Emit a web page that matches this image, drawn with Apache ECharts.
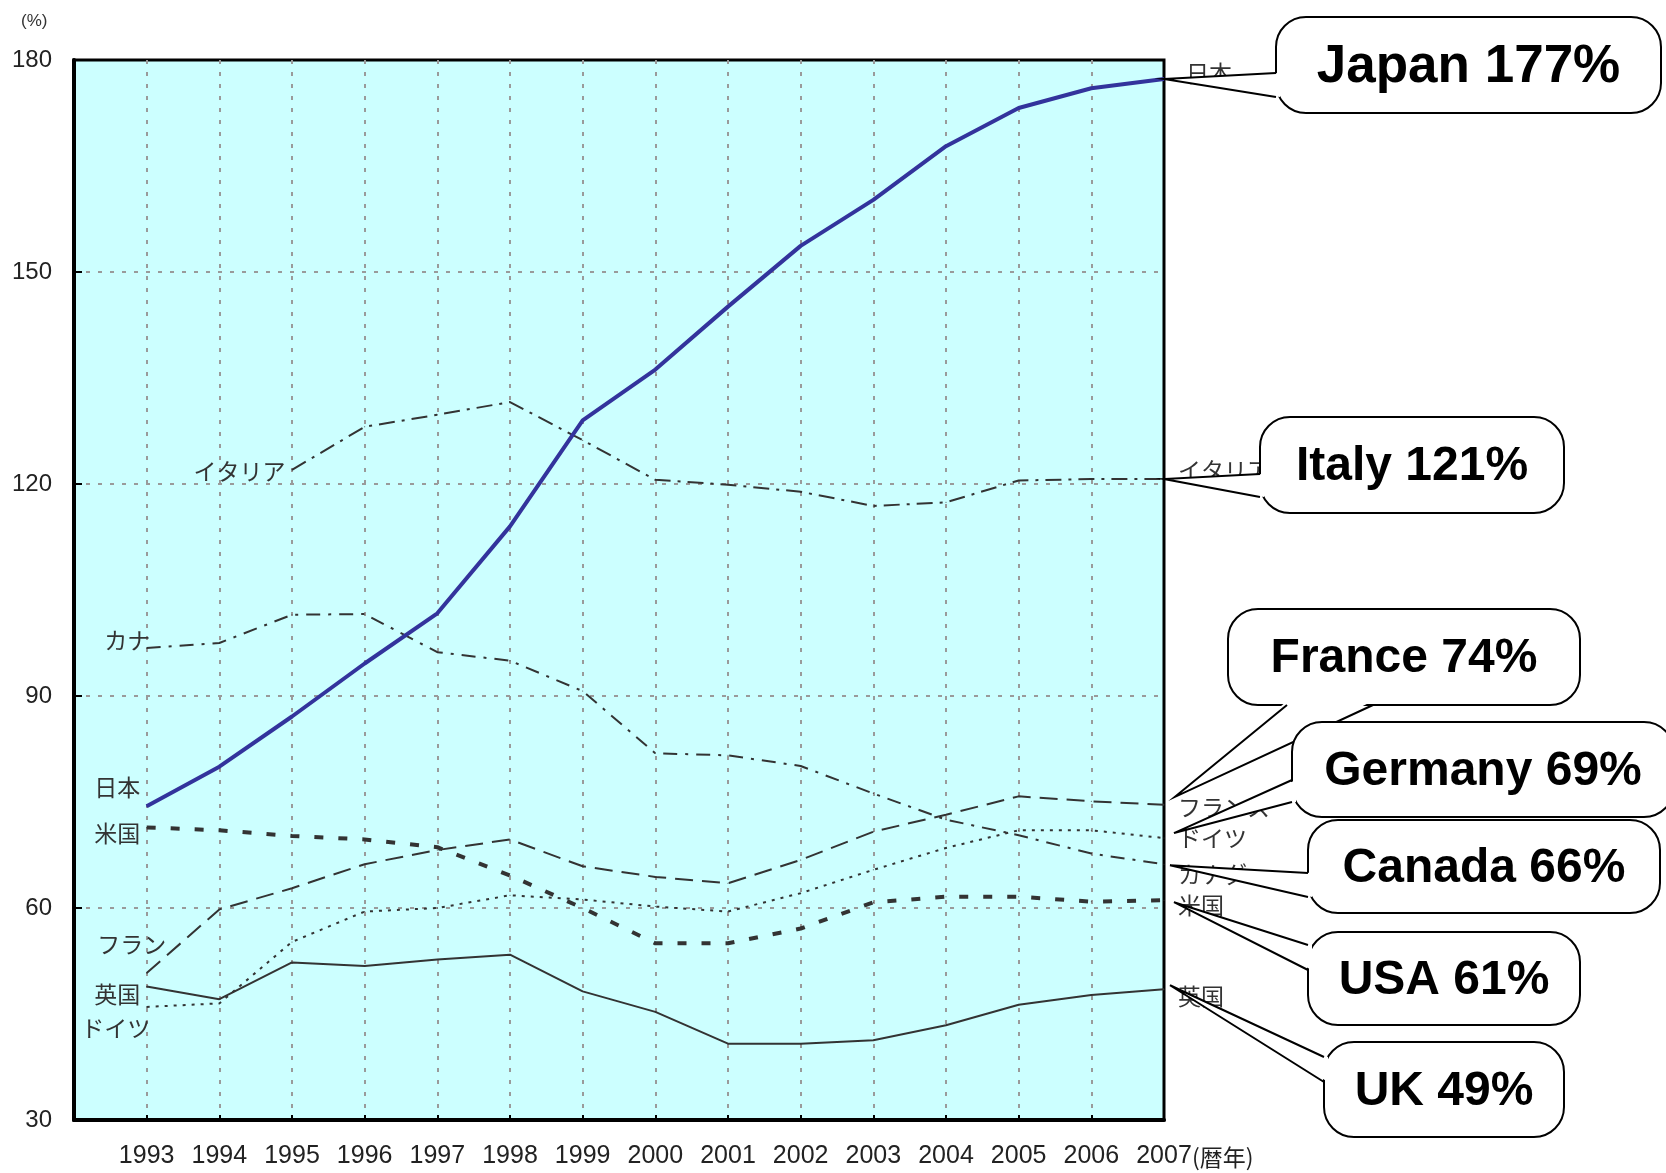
<!DOCTYPE html>
<html>
<head>
<meta charset="utf-8">
<title>G7 government debt</title>
<script src="https://cdn.jsdelivr.net/npm/echarts@6/dist/echarts.min.js"></script>
<style>
  html, body { margin: 0; padding: 0; background: #fff; }
  #chart { width: 1666px; height: 1173px; }
</style>
</head>
<body>
<div id="chart"></div>
<script>
/**---------------------------------------------------------------------------------------------------------------------
 * Data (% of GDP)
 *-------------------------------------------------------------------------------------------------------------------*/
const years = [1993, 1994, 1995, 1996, 1997, 1998, 1999, 2000, 2001, 2002, 2003, 2004, 2005, 2006, 2007];

const japan   = [74.4, 80.0, 87.1, 94.6, 101.7, 114.0, 129.0, 136.2, 145.1, 153.7, 160.2, 167.8, 173.2, 176.0, 177.3];
const italy   = [null, null, 122.0, 128.1, 129.8, 131.6, 126.2, 120.6, 119.9, 118.9, 116.9, 117.4, 120.5, 120.7, 120.7];
const canada  = [96.8, 97.5, 101.5, 101.6, 96.2, 95.0, 90.7, 81.9, 81.6, 80.1, 76.2, 72.5, 70.3, 67.7, 66.2];
const france  = [50.8, 59.8, 62.8, 66.2, 68.2, 69.7, 65.9, 64.4, 63.5, 66.8, 70.8, 73.2, 75.8, 75.1, 74.6];
const usa     = [71.4, 71.0, 70.2, 69.7, 68.6, 64.6, 60.0, 55.0, 55.0, 57.1, 60.8, 61.6, 61.6, 60.9, 61.1];
const germany = [46.0, 46.5, 55.2, 59.5, 60.0, 61.8, 61.2, 60.2, 59.5, 62.1, 65.4, 68.5, 71.0, 71.0, 69.9];
const uk      = [48.9, 47.1, 52.3, 51.8, 52.7, 53.4, 48.2, 45.3, 40.8, 40.8, 41.3, 43.4, 46.3, 47.7, 48.5];

const yTicks = [30, 60, 90, 120, 150, 180];
const xUnit = '(暦年)';
const calloutTexts = ['Japan 177%', 'Italy 121%', 'France 74%', 'Germany 69%', 'Canada 66%', 'USA 61%', 'UK 49%'];

/**---------------------------------------------------------------------------------------------------------------------
 * Styles
 *-------------------------------------------------------------------------------------------------------------------*/
const JP_FONT = '"Noto Sans CJK JP", sans-serif';
const NUM_FONT = '"Liberation Sans", Arial, sans-serif';
const INK = '#333';
const X_LABEL_MARGIN = 24;
const X_LABEL_SIZE = 25;

// one entry per country: line look + where its japanese labels sit
const seriesDefs = [
    {name: '英国',    values: uk,      width: 2, type: 'solid',          startText: '英国',    startOffset: [0, 8],    endOffset: [0, 7]},
    {name: 'ドイツ',  values: germany, width: 2, type: [3, 6],           startText: 'ドイツ',  startOffset: [10, 21],  endOffset: [0, 0]},
    {name: 'フランス', values: france,  width: 2, type: [18, 9],          startText: 'フラン',  startOffset: [26, -29], endOffset: [0, 2]},
    {name: '米国',    values: usa,     width: 4, type: [9, 15],          startText: '米国',    startOffset: [0, 6],    endOffset: [0, 5]},
    {name: 'カナダ',  values: canada,  width: 2, type: [14, 8, 3, 8],    startText: 'カナ',    startOffset: [10, -8],  endOffset: [0, 10]},
    {name: 'イタリア', values: italy,   width: 2, type: [16, 7, 3, 7],    startText: 'イタリア', startOffset: [0, 1],    endOffset: [0, -9]},
    {name: '日本',    values: japan,   width: 4, type: 'solid', color: '#33339c', startText: '日本', startOffset: [0, -19], endOffset: [8, -6]}
];

// callout boxes on the right: box = [x, y, w, h]; the wedge leaves the box on `side` between `base`
const callouts = [
    {text: calloutTexts[0], values: japan,   box: [1276, 17, 385, 96],   side: 'left',   base: [73, 97],     tip: [0, 0],   size: 53},
    {text: calloutTexts[1], values: italy,   box: [1260, 417, 304, 96],  side: 'left',   base: [474, 497],   tip: [0, 0],   size: 48},
    {text: calloutTexts[2], values: france,  box: [1228, 609, 352, 96],  side: 'bottom', base: [1287, 1373], tip: [11, -8], size: 48},
    {text: calloutTexts[3], values: germany, box: [1292, 722, 382, 95],  side: 'left',   base: [780, 802],   tip: [10, -5], size: 48},
    {text: calloutTexts[4], values: canada,  box: [1308, 820, 352, 93],  side: 'left',   base: [873, 897],   tip: [6, 1],   size: 48},
    {text: calloutTexts[5], values: usa,     box: [1308, 932, 272, 93],  side: 'left',   base: [945, 970],   tip: [10, 2],  size: 48},
    {text: calloutTexts[6], values: uk,      box: [1324, 1042, 240, 95], side: 'left',   base: [1057, 1082], tip: [6, -4],  size: 48}
];

/**---------------------------------------------------------------------------------------------------------------------
 * Chart
 *-------------------------------------------------------------------------------------------------------------------*/
const chart = echarts.init(document.getElementById('chart'));

function buildSeries(def, idx) {
    let data = [];
    let first = true;
    years.forEach(function (yr, i) {
        let v = def.values[i];
        if (v == null) return;
        if (first) {
            data.push({
                value: [yr, v],
                label: {show: true, position: 'left', distance: 6, formatter: def.startText, offset: def.startOffset}
            });
            first = false;
        } else {
            data.push([yr, v]);
        }
    });
    let color = def.color || INK;
    return {
        type: 'line',
        name: def.name,
        data: data,
        z: 2 + idx,
        symbol: 'circle',
        symbolSize: 1,
        showSymbol: true,
        silent: true,
        animation: false,
        lineStyle: {color: color, width: def.width, type: def.type, cap: 'butt'},
        itemStyle: {color: color},
        label: {show: false, fontFamily: JP_FONT, fontSize: 23, color: INK},
        endLabel: {
            show: true, formatter: def.name, distance: 14, offset: def.endOffset,
            fontFamily: JP_FONT, fontSize: 23, color: INK
        }
    };
}

const lastYear = years[years.length - 1];

const option = {
    backgroundColor: '#fff',
    animation: false,
    title: {
        text: '(%)', left: 16, top: 8,
        textStyle: {fontFamily: NUM_FONT, fontSize: 17, fontWeight: 'normal', color: INK}
    },
    grid: {
        left: 74, right: 502, top: 60, bottom: 53,
        show: true, backgroundColor: '#ccffff', borderColor: '#000', borderWidth: 3
    },
    xAxis: {
        type: 'value',
        min: 1992, max: lastYear, interval: 1,
        axisLine: {lineStyle: {color: '#000', width: 4}},
        axisTick: {inside: true, length: 5, lineStyle: {color: '#000', width: 2}},
        axisLabel: {
            showMinLabel: false, showMaxLabel: true, margin: X_LABEL_MARGIN,
            fontFamily: NUM_FONT, fontSize: X_LABEL_SIZE, color: '#222',
            formatter: function (v) { return years.indexOf(v) >= 0 ? String(v) : ''; }
        },
        splitLine: {show: true, showMinLine: false, showMaxLine: false, lineStyle: {color: '#9a9a9a', width: 2, type: [4, 8]}}
    },
    yAxis: {
        type: 'value',
        min: yTicks[0], max: yTicks[yTicks.length - 1], interval: 30,
        axisLine: {show: true, lineStyle: {color: '#000', width: 4}},
        axisTick: {show: true, inside: true, length: 8, lineStyle: {color: '#000', width: 2}},
        axisLabel: {margin: 22, fontFamily: NUM_FONT, fontSize: 24, color: '#222'},
        splitLine: {show: true, showMinLine: false, showMaxLine: false, lineStyle: {color: '#9a9a9a', width: 2, type: [4, 8]}}
    },
    series: seriesDefs.map(buildSeries)
};

chart.setOption(option);

/**
 * Speech bubble callouts, their wedges point at the last value of each series
 */
function calloutGraphics() {
    let els = [];
    callouts.forEach(function (c, i) {
        let last = c.values[c.values.length - 1];
        let p = chart.convertToPixel({gridIndex: 0}, [lastYear, last]);
        let tip = [p[0] + c.tip[0], p[1] + c.tip[1]];
        let bx = c.box[0], by = c.box[1], bw = c.box[2], bh = c.box[3];
        let b1, b2, in1, in2;
        if (c.side === 'left') {
            b1 = [bx, c.base[0]]; b2 = [bx, c.base[1]];
            in1 = [bx + 4, c.base[0]]; in2 = [bx + 4, c.base[1]];
        } else {
            b1 = [c.base[0], by + bh]; b2 = [c.base[1], by + bh];
            in1 = [c.base[0], by + bh - 4]; in2 = [c.base[1], by + bh - 4];
        }
        let z = 100 + i * 10;
        els.push({
            type: 'rect', z: z, silent: true,
            shape: {x: bx, y: by, width: bw, height: bh, r: 30},
            style: {fill: '#fff', stroke: '#000', lineWidth: 2}
        });
        els.push({
            type: 'polygon', z: z + 1, silent: true,
            shape: {points: [tip, in1, in2]},
            style: {fill: '#fff', stroke: null}
        });
        els.push({
            type: 'polyline', z: z + 2, silent: true,
            shape: {points: [b1, tip, b2]},
            style: {fill: null, stroke: '#000', lineWidth: 2}
        });
        els.push({
            type: 'text', z: z + 3, silent: true,
            x: bx + bw / 2, y: by + bh / 2 + 2,
            style: {
                text: c.text, fill: '#000',
                fontFamily: NUM_FONT, fontSize: c.size, fontWeight: 'bold',
                align: 'center', verticalAlign: 'middle'
            }
        });
    });

    // the "(暦年)" unit hangs right after the last year label
    let corner = chart.convertToPixel({gridIndex: 0}, [lastYear, yTicks[0]]);
    els.push({
        type: 'text', z: 50, silent: true,
        x: corner[0] + 28, y: corner[1] + X_LABEL_MARGIN + X_LABEL_SIZE / 2 + 1,
        style: {
            text: xUnit, fill: '#222', fontFamily: JP_FONT, fontSize: 23,
            align: 'left', verticalAlign: 'middle'
        }
    });
    return els;
}

chart.setOption({graphic: calloutGraphics()});
</script>
</body>
</html>
